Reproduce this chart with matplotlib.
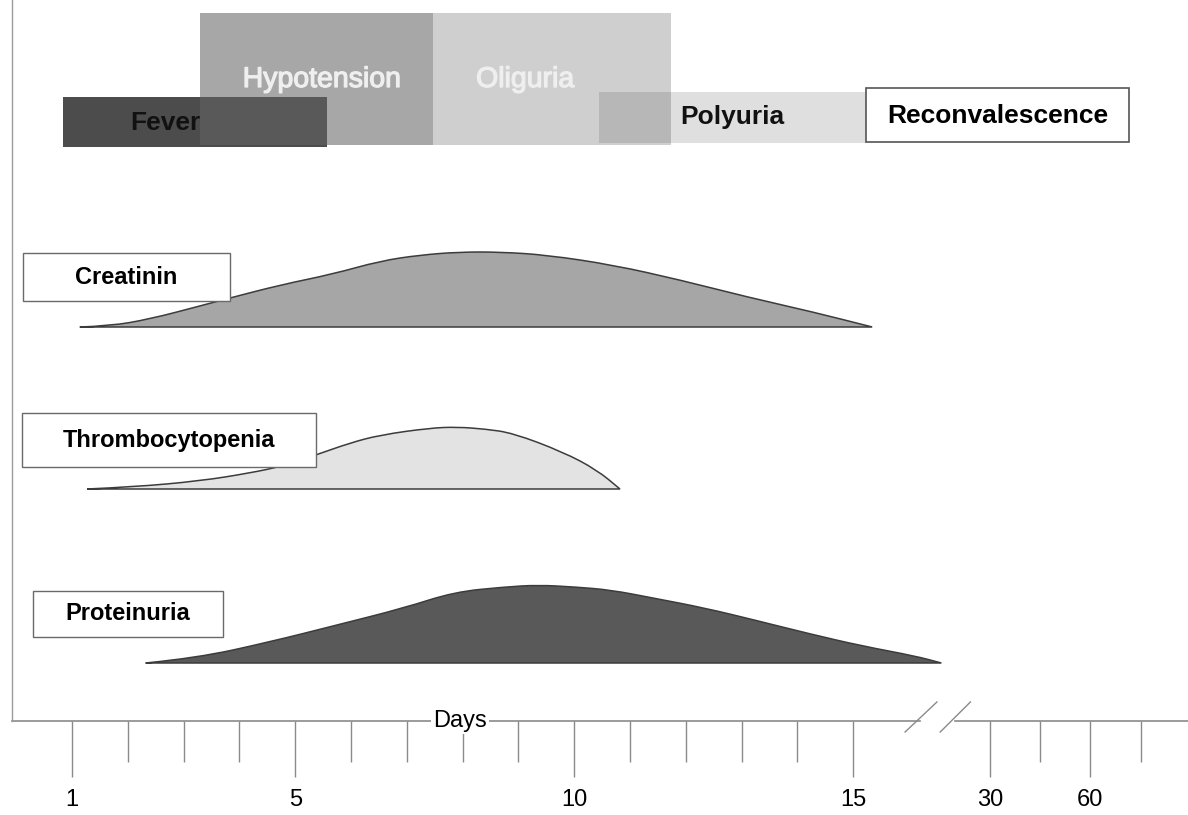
import numpy as np
import matplotlib.pyplot as plt
import matplotlib.patheffects as pe
from matplotlib.patches import Rectangle, PathPatch
from matplotlib.path import Path

plt.rcParams['font.family'] = ['Liberation Sans', 'DejaVu Sans']

# PHASES (start / end as positions on the day axis)
phase_names = ["Fever", "Hypotension", "Oliguria", "Polyuria", "Reconvalescence"]
phase_start = [0.84, 3.29, 7.47, 10.45, 15.23]
phase_end = [5.57, 7.47, 11.74, 15.23, 19.95]

# LAB VALUES (day position, relative level)
creat_days = [1.14, 1.68, 2.40, 3.29, 3.83, 4.73, 5.68, 6.52, 7.24, 7.95, 8.67, 9.51, 10.70, 11.90, 13.10, 14.28, 15.34]
creat_level = [0, 1, 8, 21, 29, 42, 53, 66, 72, 75, 75, 72, 62, 47, 30, 15, 0]

thromb_days = [1.27, 2.09, 3.29, 4.19, 4.78, 5.37, 5.98, 6.52, 7.42, 7.90, 8.40, 8.90, 9.80, 10.41, 10.82]
thromb_level = [0, 2, 8, 16, 23, 34, 46, 54, 61, 62, 60, 56, 37, 19, 0]

prot_days = [2.32, 3.23, 4.54, 5.75, 6.95, 7.85, 8.75, 9.35, 10.02, 10.66, 11.41, 12.34, 13.30, 14.23, 15.16, 16.11, 16.58]
prot_level = [0, 5, 21, 38, 55, 71, 76, 78, 76, 73, 65, 55, 42, 29, 17, 7, 0]

# AXIS TICKS
day_ticks = list(range(1, 16))
late_ticks = [17.45, 18.35, 19.25, 20.15]
late_labels = ["30", "", "60", ""]
major_days = [1, 5, 10, 15]


def smooth_outline(xs, ys, base):
    # quadratic bezier through the midpoints, closed along the baseline
    verts = [(xs[0], ys[0])]
    codes = [Path.MOVETO]
    for i in range(1, len(xs) - 1):
        verts += [(xs[i], ys[i]), ((xs[i] + xs[i + 1]) / 2, (ys[i] + ys[i + 1]) / 2)]
        codes += [Path.CURVE3, Path.CURVE3]
    verts += [(xs[-1], ys[-1]), (xs[-1], base), (xs[0], base), (xs[0], base)]
    codes += [Path.LINETO, Path.LINETO, Path.LINETO, Path.CLOSEPOLY]
    return Path(verts, codes)


fig = plt.figure(figsize=(11.88, 8.15), dpi=100)
ax = fig.add_axes([12 / 1188, 94 / 815, 1 - 12 / 1188, 1 - 94 / 815])
ax.set_xlim(-0.075, 21.0)
ax.set_ylim(0, 721)

for s in ["top", "right", "bottom"]:
    ax.spines[s].set_visible(False)
ax.spines["left"].set_color("#9a9a9a")
ax.spines["left"].set_linewidth(1)
ax.set_yticks([])

# ticks: long ones carry labels, short ones none
all_ticks = day_ticks + late_ticks
major_pos = major_days + [late_ticks[0], late_ticks[2]]
minor_pos = [t for t in all_ticks if t not in major_pos]
ax.set_xticks(major_pos)
ax.set_xticklabels([str(d) for d in major_days] + [late_labels[0], late_labels[2]], fontsize=17)
ax.set_xticks(minor_pos, minor=True)
ax.tick_params(axis="x", which="major", direction="out", length=40, width=1, color="#8a8a8a", pad=9)
ax.tick_params(axis="x", which="minor", direction="out", length=29.5, width=1, color="#8a8a8a")

# broken axis line
ax.plot([-0.075, 16.20], [0, 0], color="#8a8a8a", lw=1.2, clip_on=False)
ax.plot([16.83, 21.0], [0, 0], color="#8a8a8a", lw=1.2, clip_on=False)
ax.plot([15.93, 16.50], [-11, 19], color="#8a8a8a", lw=1, clip_on=False)
ax.plot([16.56, 17.10], [-11, 19], color="#8a8a8a", lw=1, clip_on=False)
ax.text(7.95, 0, "Days", fontsize=17, ha="center", va="center", clip_on=False,
        bbox=dict(facecolor="white", edgecolor="none", pad=1.5), zorder=5)

# PHASE BARS
bar_y = {"Fever": (574, 50), "Hypotension": (576, 132), "Oliguria": (576, 132),
         "Polyuria": (578, 51), "Reconvalescence": (579, 54)}
bar_style = {"Fever": dict(facecolor="#4c4c4c", alpha=1, zorder=2),
             "Hypotension": dict(facecolor="#646464", alpha=0.57, zorder=3),
             "Oliguria": dict(facecolor="#cfcfcf", alpha=1, zorder=1),
             "Polyuria": dict(facecolor="#464646", alpha=0.17, zorder=2),
             "Reconvalescence": dict(facecolor="white", alpha=1, zorder=4,
                                     edgecolor="#555555", linewidth=1.2)}
for name, x0, x1 in zip(phase_names, phase_start, phase_end):
    y0, h = bar_y[name]
    st = dict(bar_style[name])
    if "edgecolor" not in st:
        st["edgecolor"] = "none"
    ax.add_patch(Rectangle((x0, y0), x1 - x0, h, **st))

thick = [pe.withStroke(linewidth=0.9, foreground="#efefef")]
ax.text(5.48, 641, "Hypotension", fontsize=20.5, color="#efefef", ha="center", va="center",
        zorder=6, path_effects=thick)
ax.text(9.12, 641, "Oliguria", fontsize=20.5, color="#efefef", ha="center", va="center",
        zorder=6, path_effects=thick)
ax.text(2.68, 598, "Fever", fontsize=19, fontweight="bold", color="#111111", ha="center", va="center", zorder=6)
ax.text(12.83, 604, "Polyuria", fontsize=19, fontweight="bold", color="#111111", ha="center", va="center", zorder=6)
ax.text(17.60, 605, "Reconvalescence", fontsize=19, fontweight="bold", color="#000000", ha="center", va="center", zorder=6)

# LAB CURVES
curves = [
    ("Creatinin", creat_days, creat_level, 394, "#a6a6a6", (0.12, 3.83, 420, 468)),
    ("Thrombocytopenia", thromb_days, thromb_level, 232, "#e3e3e3", (0.10, 5.37, 254, 308)),
    ("Proteinuria", prot_days, prot_level, 58, "#595959", (0.30, 3.70, 84, 130)),
]
for name, days, level, base, col, box in curves:
    xs = np.array(days, dtype=float)
    ys = base + np.array(level, dtype=float)
    ax.add_patch(PathPatch(smooth_outline(xs, ys, base), facecolor=col,
                           edgecolor="#3c3c3c", lw=1.1, zorder=2))
    bx0, bx1, by0, by1 = box
    ax.add_patch(Rectangle((bx0, by0), bx1 - bx0, by1 - by0, facecolor="white",
                           edgecolor="#6a6a6a", lw=1, zorder=4))
    ax.text((bx0 + bx1) / 2, (by0 + by1) / 2, name, fontsize=17, fontweight="bold",
            ha="center", va="center", zorder=5)

fig.savefig("out.png", dpi=100, facecolor="white")
